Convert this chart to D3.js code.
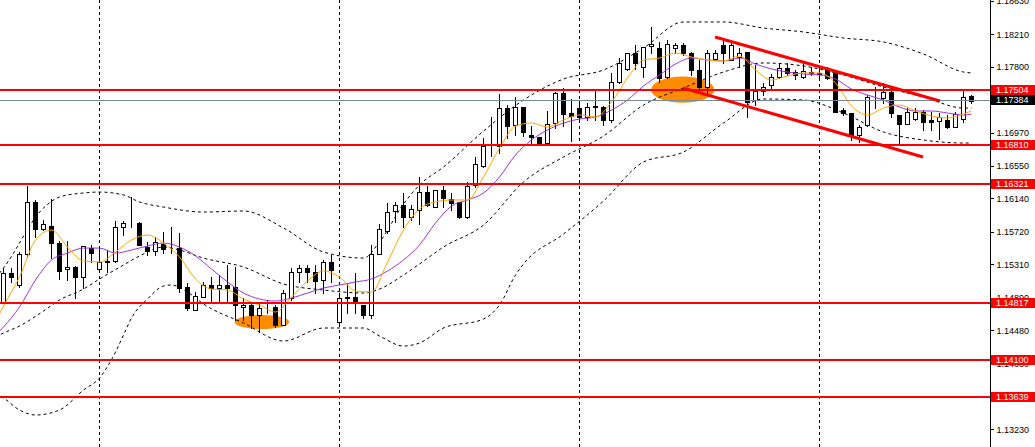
<!DOCTYPE html>
<html><head><meta charset="utf-8">
<script src="https://cdn.jsdelivr.net/npm/d3@7"></script>
<style>body{margin:0;background:#fff;overflow:hidden}svg{display:block}</style>
</head><body><svg id="c" width="1035" height="447"></svg>
<script>
const opens  = [1.14835,1.15200,1.15049,1.15440,1.16096,1.15755,1.15792,1.15578,1.15251,1.15276,1.15150,1.15515,1.15251,1.15351,1.15351,1.15780,1.15830,1.15830,1.15528,1.15477,1.15566,1.15515,1.15515,1.15024,1.14734,1.14898,1.15049,1.15011,1.15049,1.15024,1.14772,1.14797,1.14671,1.14759,1.14772,1.14545,1.14885,1.15213,1.15263,1.15213,1.15112,1.15339,1.14583,1.14898,1.14898,1.14797,1.14671,1.15440,1.15730,1.15982,1.16058,1.15906,1.15995,1.16222,1.16033,1.16247,1.16134,1.16096,1.15906,1.16310,1.16549,1.16826,1.16801,1.17280,1.17066,1.17293,1.16940,1.16915,1.16839,1.17091,1.17470,1.17217,1.17280,1.17167,1.17293,1.17293,1.17129,1.17608,1.17772,1.17974,1.17797,1.18062,1.18037,1.17671,1.18037,1.18075,1.17974,1.17760,1.17545,1.17898,1.18075,1.17886,1.17923,1.17986,1.17381,1.17495,1.17570,1.17671,1.17785,1.17734,1.17671,1.17722,1.17709,1.17785,1.17722,1.17255,1.17217,1.16940,1.17066,1.17419,1.17407,1.17482,1.17192,1.17079,1.17142,1.17230,1.17129,1.17117,1.17129,1.17041,1.17142,1.17432];
const highs  = [1.15263,1.15263,1.15465,1.16297,1.16121,1.15868,1.16134,1.15603,1.15603,1.15288,1.15545,1.15553,1.15503,1.15490,1.15855,1.15855,1.16159,1.15843,1.15591,1.15654,1.15717,1.15780,1.15704,1.15074,1.14961,1.15087,1.15150,1.15175,1.15301,1.15276,1.14885,1.14822,1.14822,1.14860,1.14797,1.14986,1.15263,1.15301,1.15301,1.15301,1.15364,1.15427,1.14948,1.15074,1.15200,1.14800,1.15553,1.15818,1.16083,1.16096,1.16209,1.16058,1.16411,1.16297,1.16250,1.16297,1.16209,1.16100,1.16348,1.16663,1.16902,1.17167,1.17457,1.17318,1.17419,1.17295,1.17053,1.16918,1.17243,1.17482,1.17533,1.17394,1.17381,1.17343,1.17495,1.17306,1.17722,1.17911,1.17980,1.18075,1.18055,1.18302,1.18113,1.18138,1.18100,1.18100,1.17986,1.17886,1.18012,1.18012,1.18163,1.18100,1.18037,1.17990,1.17823,1.17596,1.17709,1.17848,1.17848,1.17760,1.17848,1.17797,1.17785,1.17797,1.17747,1.17280,1.17220,1.17066,1.17444,1.17545,1.17596,1.17545,1.17195,1.17280,1.17280,1.17255,1.17230,1.17217,1.17192,1.17230,1.17495,1.17444];
const lows   = [1.14822,1.15087,1.15024,1.15402,1.15654,1.15742,1.15389,1.15125,1.15112,1.14885,1.15011,1.15339,1.15213,1.15213,1.15345,1.15679,1.15780,1.15550,1.15427,1.15427,1.15452,1.15452,1.14961,1.14734,1.14734,1.14898,1.14822,1.14822,1.14822,1.14608,1.14608,1.14507,1.14457,1.14696,1.14520,1.14545,1.14860,1.15087,1.15087,1.14948,1.14948,1.15087,1.14545,1.14696,1.14696,1.14633,1.14633,1.15435,1.15704,1.15843,1.15780,1.15868,1.15818,1.16045,1.16030,1.16033,1.15995,1.15893,1.15893,1.16285,1.16537,1.16675,1.16713,1.16902,1.16940,1.16927,1.16814,1.16814,1.16814,1.17028,1.17053,1.16864,1.17129,1.17129,1.17129,1.17066,1.17104,1.17596,1.17760,1.17772,1.17671,1.17974,1.17608,1.17659,1.17974,1.17949,1.17697,1.17482,1.17470,1.17886,1.17848,1.17880,1.17797,1.17167,1.17318,1.17444,1.17520,1.17659,1.17697,1.17646,1.17659,1.17697,1.17671,1.17646,1.17225,1.17192,1.16877,1.16852,1.17053,1.17280,1.17343,1.17167,1.16814,1.17075,1.17129,1.17003,1.17003,1.16890,1.17028,1.17035,1.17104,1.17343];
const closes = [1.15200,1.15150,1.15440,1.16096,1.15755,1.15818,1.15578,1.15225,1.15276,1.15150,1.15540,1.15452,1.15339,1.15339,1.15780,1.15830,1.15825,1.15553,1.15477,1.15591,1.15503,1.15510,1.15011,1.14759,1.14910,1.15049,1.15011,1.15049,1.15011,1.14797,1.14797,1.14671,1.14759,1.14765,1.14545,1.14948,1.15213,1.15263,1.15213,1.15099,1.15339,1.15238,1.14885,1.14890,1.14822,1.14671,1.15440,1.15755,1.15969,1.16058,1.15906,1.16008,1.16222,1.16058,1.16247,1.16146,1.16083,1.15906,1.16297,1.16575,1.16801,1.16820,1.17280,1.17053,1.17293,1.16978,1.16915,1.16839,1.17079,1.17470,1.17205,1.17180,1.17167,1.17293,1.17300,1.17129,1.17608,1.17848,1.17974,1.17848,1.18049,1.18087,1.17659,1.18087,1.18075,1.17974,1.17760,1.17545,1.17974,1.17974,1.17974,1.18075,1.17974,1.17356,1.17495,1.17545,1.17671,1.17785,1.17722,1.17697,1.17747,1.17734,1.17722,1.17659,1.17230,1.17217,1.16940,1.17041,1.17419,1.17425,1.17482,1.17217,1.17079,1.17230,1.17230,1.17104,1.17104,1.17167,1.17041,1.17205,1.17419,1.17369];

// fast MA (orange), [candle index, price]
const fastMA = [[-1,1.14583],[0,1.14784],[2,1.15150],[4,1.15616],[6,1.15742],[8,1.15528],[10,1.15351],[12,1.15339],[14,1.15465],[16,1.15616],[18,1.15679],[20,1.15578],[22,1.15402],[24,1.15125],[26,1.14998],[28,1.14986],[30,1.14873],[32,1.14797],[34,1.14709],[36,1.14898],[38,1.15099],[40,1.15226],[42,1.15150],[44,1.14973],[46,1.14961],[48,1.15339],[50,1.15742],[52,1.16008],[54,1.16096],[56,1.16121],[58,1.16121],[60,1.16411],[62,1.16776],[64,1.17053],[66,1.17091],[68,1.17041],[70,1.17129],[72,1.17192],[74,1.17167],[76,1.17356],[78,1.17659],[80,1.17886],[82,1.17911],[84,1.17974],[86,1.17923],[88,1.17886],[90,1.17873],[92,1.17936],[94,1.17760],[96,1.17633],[98,1.17684],[100,1.17722],[102,1.17722],[104,1.17596],[106,1.17306],[108,1.17192],[110,1.17280],[112,1.17318],[114,1.17243],[116,1.17180],[118,1.17154],[120,1.17205],[121,1.17243]];
// slow MA (purple)
const slowMA = [[-1,1.14419],[0,1.14520],[2,1.14772],[4,1.15112],[6,1.15364],[8,1.15452],[10,1.15515],[12,1.15515],[14,1.15452],[16,1.15490],[18,1.15541],[20,1.15578],[22,1.15528],[24,1.15415],[26,1.15251],[28,1.15087],[30,1.14948],[32,1.14873],[34,1.14847],[36,1.14885],[38,1.14948],[40,1.15011],[42,1.15049],[44,1.15087],[46,1.15125],[48,1.15226],[50,1.15364],[52,1.15553],[54,1.15830],[56,1.16045],[58,1.16121],[60,1.16209],[62,1.16411],[64,1.16688],[66,1.16877],[68,1.17003],[70,1.17091],[72,1.17142],[74,1.17167],[76,1.17255],[78,1.17381],[80,1.17558],[82,1.17697],[84,1.17835],[86,1.17911],[88,1.17886],[90,1.17873],[92,1.17911],[94,1.17835],[96,1.17772],[98,1.17734],[100,1.17709],[102,1.17697],[104,1.17646],[106,1.17520],[108,1.17444],[110,1.17381],[112,1.17293],[114,1.17243],[116,1.17243],[118,1.17217],[120,1.17192],[121,1.17205]];
// Bollinger bands
const bbUpper = [[-1,1.15137],[0,1.15263],[5,1.16020],[7,1.16159],[10,1.16209],[12,1.16221],[15,1.16184],[17,1.16096],[20,1.16032],[25,1.15969],[30,1.15982],[35,1.15768],[40,1.15465],[45,1.15389],[47,1.15591],[50,1.16070],[52,1.16310],[55,1.16537],[60,1.16990],[65,1.17381],[70,1.17646],[75,1.17760],[80,1.18037],[85,1.18365],[90,1.18365],[95,1.18289],[100,1.18239],[105,1.18163],[110,1.18113],[115,1.17961],[120,1.17734],[121,1.17722]];
const bbMiddle = [[-1,1.14394],[0,1.14444],[2,1.14532],[5,1.14721],[7,1.14860],[10,1.14998],[12,1.15125],[15,1.15301],[17,1.15415],[20,1.15528],[22,1.15490],[25,1.15389],[30,1.15276],[35,1.15062],[40,1.14986],[45,1.14948],[47,1.14998],[50,1.15175],[52,1.15314],[55,1.15528],[60,1.15805],[65,1.16348],[70,1.16663],[75,1.16927],[80,1.17318],[85,1.17533],[90,1.17734],[95,1.17848],[100,1.17810],[105,1.17697],[110,1.17545],[115,1.17419],[120,1.17280],[121,1.17280]];
const bbLower = [[-1,1.13675],[0,1.13624],[2,1.13473],[4,1.13410],[7,1.13473],[10,1.13725],[12,1.13877],[14,1.14204],[15,1.14419],[16,1.14633],[18,1.14873],[20,1.15036],[21,1.15049],[23,1.14961],[25,1.14810],[30,1.14570],[35,1.14343],[40,1.14507],[45,1.14507],[47,1.14406],[50,1.14280],[52,1.14318],[55,1.14507],[60,1.14620],[62,1.14797],[64,1.15175],[65,1.15314],[70,1.15692],[75,1.16108],[80,1.16600],[85,1.16726],[90,1.17091],[95,1.17394],[100,1.17381],[105,1.17217],[110,1.16978],[115,1.16877],[120,1.16839],[121,1.16839]];

const levels = [1.17504, 1.16810, 1.16321, 1.14817, 1.14100, 1.13639];
const bidPrice = 1.17384;
const tickValues = [1.18630,1.18210,1.17800,1.17380,1.16970,1.16550,1.16140,1.15720,1.15310,1.14890,1.14480,1.14060,1.13650,1.13230];
const gridCandles = [12, 42, 72, 102];
const channelUpper = [[88.94, 1.18176], [117.06, 1.17369]];
const channelLower = [[84.94, 1.17533], [114.94, 1.16663]];
const ellipses = [{i: 32.3, p: 1.14583, ri: 3.4, rp: 0.00088}, {i: 84.9, p: 1.17512, ri: 3.95, rp: 0.00165}];

const svg = d3.select('#c');
const axisX = 990;
const x = d3.scaleLinear().domain([0, 121]).range([3.5, 971.5]);
const y = d3.scaleLinear().domain([1.13007, 1.18642]).range([447, 0]);
const FONT = '"Liberation Sans", Arial, sans-serif';

svg.append('rect').attr('width', 1035).attr('height', 447).attr('fill', '#fff');
const defs = svg.append('defs');
defs.append('clipPath').attr('id', 'plotclip').append('rect').attr('x', 0).attr('y', 0).attr('width', axisX).attr('height', 447);
const plot = svg.append('g').attr('clip-path', 'url(#plotclip)');

plot.selectAll('ellipse').data(ellipses).join('ellipse')
  .attr('cx', d => x(d.i)).attr('cy', d => y(d.p))
  .attr('rx', d => x(d.i + d.ri) - x(d.i)).attr('ry', d => y(d.p - d.rp) - y(d.p))
  .attr('fill', '#ff8c00');

plot.selectAll('line.grid').data(gridCandles).join('line').attr('class', 'grid')
  .attr('x1', d => Math.floor(x(d)) + 0.5).attr('x2', d => Math.floor(x(d)) + 0.5)
  .attr('y1', 0).attr('y2', 447).attr('stroke', '#000').attr('stroke-dasharray', '3,3')
  .attr('shape-rendering', 'crispEdges');

const lineGen = d3.line().x(d => x(d[0])).y(d => y(d[1])).curve(d3.curveMonotoneX);
[bbUpper, bbMiddle, bbLower].forEach(b => {
  plot.append('path').attr('d', lineGen(b)).attr('fill', 'none')
    .attr('stroke', '#000').attr('stroke-width', 1).attr('stroke-dasharray', '3,3');
});

const idx = d3.range(opens.length);
const cg = plot.append('g').attr('shape-rendering', 'crispEdges');
cg.selectAll('line.wick').data(idx).join('line').attr('class', 'wick')
  .attr('x1', i => Math.floor(x(i)) + 0.5).attr('x2', i => Math.floor(x(i)) + 0.5)
  .attr('y1', i => Math.round(y(highs[i]))).attr('y2', i => Math.round(y(lows[i])) + 1)
  .attr('stroke', '#000');
cg.selectAll('rect.body').data(idx).join('rect').attr('class', 'body')
  .attr('x', i => Math.floor(x(i)) - 1.5)
  .attr('y', i => Math.round(y(Math.max(opens[i], closes[i]))) + 0.5)
  .attr('width', 4)
  .attr('height', i => Math.max(0, Math.round(y(Math.min(opens[i], closes[i]))) - Math.round(y(Math.max(opens[i], closes[i])))))
  .attr('fill', i => closes[i] > opens[i] ? '#fff' : '#000')
  .attr('stroke', '#000');

plot.append('path').attr('d', lineGen(slowMA)).attr('fill', 'none').attr('stroke', '#9933dd').attr('stroke-width', 1);
plot.append('path').attr('d', lineGen(fastMA)).attr('fill', 'none').attr('stroke', '#ffa500').attr('stroke-width', 1);

plot.append('line').attr('x1', 0).attr('x2', axisX).attr('y1', Math.round(y(bidPrice)) + 0.5).attr('y2', Math.round(y(bidPrice)) + 0.5)
  .attr('stroke', '#778899').attr('shape-rendering', 'crispEdges');

plot.selectAll('line.lvl').data(levels).join('line').attr('class', 'lvl')
  .attr('x1', 0).attr('x2', axisX).attr('y1', d => Math.round(y(d))).attr('y2', d => Math.round(y(d)))
  .attr('stroke', '#ff0000').attr('stroke-width', 2).attr('shape-rendering', 'crispEdges');

[channelUpper, channelLower].forEach(c => {
  plot.append('line').attr('x1', x(c[0][0])).attr('y1', y(c[0][1])).attr('x2', x(c[1][0])).attr('y2', y(c[1][1]))
    .attr('stroke', '#ff0000').attr('stroke-width', 3);
});

const axis = d3.axisRight(y).tickValues(tickValues).tickSize(3).tickSizeOuter(0).tickPadding(3)
  .tickFormat(d3.format('.5f'));
const ag = svg.append('g').attr('transform', `translate(${axisX + 0.5},0)`).call(axis);
ag.select('.domain').attr('stroke', '#000').attr('d', 'M0,0V447');
ag.selectAll('.tick line').attr('stroke', '#000').attr('shape-rendering', 'crispEdges');
ag.selectAll('.tick text').attr('fill', '#000').style('font-family', FONT).style('font-size', '9px');

const labels = levels.map(v => ({v, bg: '#ff0000'})).concat([{v: bidPrice, bg: '#000'}]);
const lg = svg.append('g');
labels.forEach(l => {
  const yy = y(l.v);
  lg.append('rect').attr('x', axisX + 1).attr('y', Math.round(yy) - 5).attr('width', 1035 - axisX - 1).attr('height', 10)
    .attr('fill', l.bg).attr('shape-rendering', 'crispEdges');
  lg.append('text').attr('x', axisX + 6).attr('y', yy).attr('dy', '0.34em').attr('fill', '#fff')
    .style('font-family', FONT).style('font-size', '9px').text(d3.format('.5f')(l.v));
});
</script></body></html>
